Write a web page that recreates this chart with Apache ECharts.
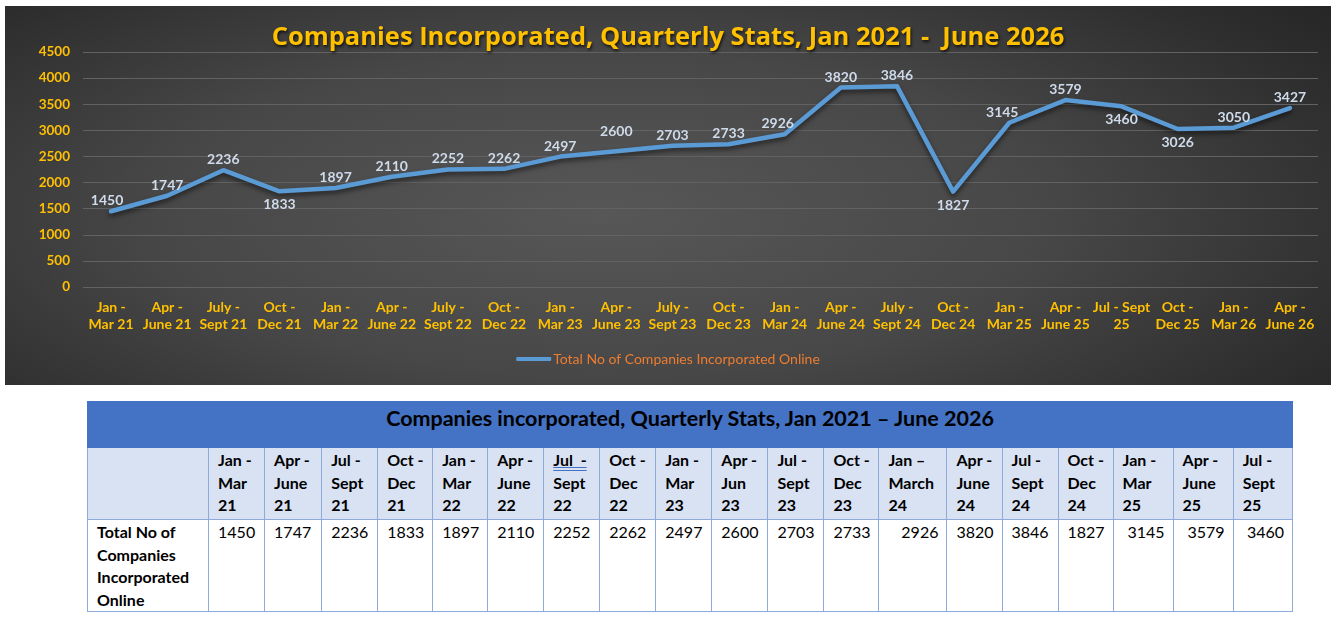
<!DOCTYPE html>
<html>
<head>
<meta charset="utf-8">
<script src="https://cdn.jsdelivr.net/npm/echarts@6/dist/echarts.min.js"></script>
<style>
  body { margin: 0; background: #fff; width: 1336px; height: 622px; position: relative; overflow: hidden; }
  #grafik { position: absolute; left: 5px; top: 6px; width: 1326px; height: 379px;
    background: radial-gradient(ellipse 75% 95% at 45% 55%, #575757 0%, #474747 45%, #2e2e2e 80%, #222 100%); }
  #tablo { position: absolute; left: 87px; top: 401px; width: 1206px; border-collapse: collapse; font-family: Lato, "Open Sans", sans-serif; color: #000; table-layout: fixed; }
  #tablo td, #tablo th { border: 1px solid #8EAADB; padding: 0 0 0 9px; vertical-align: top; text-align: left; }
  #tablo .baslik th { background: #4472C4; height: 42px; font-size: 21.5px; font-weight: bold; text-align: center; vertical-align: top; padding: 3px 0 0 0; border-color: #4472C4; }
  #tablo .kolonlar th { background: #D9E2F3; height: 70px; font-size: 16px; font-weight: bold; line-height: 22.5px; white-space: pre-line; padding-top: 1px; }
  #tablo .degerler td { height: 88px; font-size: 16px; line-height: 22.5px; padding-top: 1px; }
  #tablo .degerler td.ilk { font-weight: bold; }
  .cift { text-decoration: underline double #4472C4; }
</style>
</head>
<body>
<div id="grafik"></div>
<table id="tablo"></table>
<script>
// grafik verileri
const kategoriler = [
  "Jan -\nMar 21", "Apr -\nJune 21", "July -\nSept 21", "Oct -\nDec 21",
  "Jan -\nMar 22", "Apr -\nJune 22", "July -\nSept 22", "Oct -\nDec 22",
  "Jan -\nMar 23", "Apr -\nJune 23", "July -\nSept 23", "Oct -\nDec 23",
  "Jan -\nMar 24", "Apr -\nJune 24", "July -\nSept 24", "Oct -\nDec 24",
  "Jan -\nMar 25", "Apr -\nJune 25", "Jul - Sept\n25", "Oct -\nDec 25",
  "Jan -\nMar 26", "Apr -\nJune 26"
];
const sirketSayilari = [
  1450, 1747, 2236, 1833, 1897, 2110, 2252, 2262, 2497, 2600, 2703,
  2733, 2926, 3820, 3846, 1827, 3145, 3579, 3460, 3026, 3050, 3427
];
const yEksenTikleri = [0, 500, 1000, 1500, 2000, 2500, 3000, 3500, 4000, 4500];
const seriAdi = "Total No of Companies Incorporated Online";
const grafikBasligi = "Companies Incorporated, Quarterly Stats, Jan 2021 -  June 2026";

// tablo verileri
const tabloBasligi = "Companies incorporated, Quarterly Stats, Jan 2021 \u2013 June 2026";
const tabloKolonlari = [
  "Jan -\nMar\n21", "Apr -\nJune\n21", "Jul -\nSept\n21", "Oct -\nDec\n21",
  "Jan -\nMar\n22", "Apr -\nJune\n22", "Jul  -\nSept\n22", "Oct -\nDec\n22",
  "Jan -\nMar\n23", "Apr -\nJun\n23", "Jul -\nSept\n23", "Oct -\nDec\n23",
  "Jan \u2013\nMarch\n24", "Apr -\nJune\n24", "Jul -\nSept\n24", "Oct -\nDec\n24",
  "Jan -\nMar\n25", "Apr -\nJune\n25", "Jul -\nSept\n25"
];
const tabloSatirAdi = "Total No of Companies Incorporated Online";

// etiketi çizginin altında duranlar
const alttakiler = [3, 15, 18, 19];

let myChart = echarts.init(document.getElementById("grafik"));

let veri = sirketSayilari.map(function (v, i) {
  let alt = alttakiler.indexOf(i) >= 0;
  let lbl = { position: alt ? "bottom" : "top" };
  if (alt) lbl.distance = 5;
  if (i === 0) lbl.offset = [-4, 0];
  if (i === 12 || i === 16) lbl.offset = [-7, 0];
  if (i === 9) lbl.distance = 11;
  return { value: v, label: lbl };
});

let option = {
  backgroundColor: "transparent",
  textStyle: { fontFamily: "Lato, 'Open Sans', sans-serif" },
  title: {
    text: grafikBasligi,
    left: "center",
    top: 14,
    textStyle: {
      color: "#FFC000",
      fontSize: 25.5,
      fontWeight: "bold",
      fontFamily: "'Open Sans', Lato, sans-serif",
      textShadowColor: "rgba(0,0,0,0.7)",
      textShadowBlur: 3,
      textShadowOffsetX: 1,
      textShadowOffsetY: 2
    }
  },
  legend: {
    bottom: 14,
    left: "center",
    icon: "roundRect",
    itemWidth: 35,
    itemHeight: 4,
    textStyle: { color: "#ED7D31", fontSize: 14, padding: [0, 0, 0, -3] },
    data: [seriAdi]
  },
  grid: { left: 78, right: 13, top: 46, bottom: 98 },
  xAxis: {
    type: "category",
    data: kategoriler,
    boundaryGap: true,
    axisLine: { show: false },
    axisTick: { show: false },
    axisLabel: {
      interval: 0,
      color: "#FFC000",
      fontWeight: "bold",
      fontSize: 14,
      lineHeight: 17,
      margin: 12
    }
  },
  yAxis: {
    type: "value",
    min: yEksenTikleri[0],
    max: yEksenTikleri[yEksenTikleri.length - 1],
    interval: yEksenTikleri[1] - yEksenTikleri[0],
    axisLine: { show: false },
    axisTick: { show: false },
    axisLabel: {
      color: "#FFC000", fontWeight: "bold", fontSize: 13.5, margin: 13,
      formatter: function (v) { return String(v); }
    },
    splitLine: { lineStyle: { color: "#626262", width: 1 } }
  },
  series: [
    {
      name: seriAdi,
      type: "line",
      data: veri,
      showSymbol: true,
      symbol: "circle",
      symbolSize: 3,
      itemStyle: { color: "#5B9BD5" },
      lineStyle: {
        color: "#5B9BD5",
        width: 4.5,
        cap: "round",
        join: "round",
        shadowColor: "rgba(0,0,0,0.55)",
        shadowBlur: 5,
        shadowOffsetY: 3
      },
      label: {
        show: true,
        color: "#CFDAEA",
        fontWeight: "bold",
        fontSize: 14,
        distance: 2
      }
    }
  ]
};

myChart.setOption(option);

// tablo
let tablo = document.getElementById("tablo");
let html = "<colgroup><col style='width:121px'>";
let genislikler = [56, 57, 56, 55, 55, 56, 56, 56, 56, 56, 56, 55, 68, 55, 56, 55, 60, 60, 59];
genislikler.forEach(function (w) { html += "<col style='width:" + w + "px'>"; });
html += "</colgroup>";
html += "<tr class='baslik'><th colspan='" + (tabloKolonlari.length + 1) + "'>" + tabloBasligi + "</th></tr>";
html += "<tr class='kolonlar'><th></th>";
tabloKolonlari.forEach(function (k, i) {
  let satirlar = k.split("\n");
  if (i === 6) satirlar[0] = "<span class='cift'>" + satirlar[0].replace("  ", "&nbsp; ") + "</span>";
  html += "<th>" + satirlar.join("\n") + "</th>";
});
html += "</tr><tr class='degerler'><td class='ilk'>" + tabloSatirAdi + "</td>";
tabloKolonlari.forEach(function (k, i) {
  let sag = [12, 16, 17, 18].indexOf(i) >= 0;
  html += "<td" + (sag ? " style='text-align:right;padding-right:8px'" : "") + ">" + sirketSayilari[i] + "</td>";
});
html += "</tr>";
tablo.innerHTML = html;
</script>
</body>
</html>
